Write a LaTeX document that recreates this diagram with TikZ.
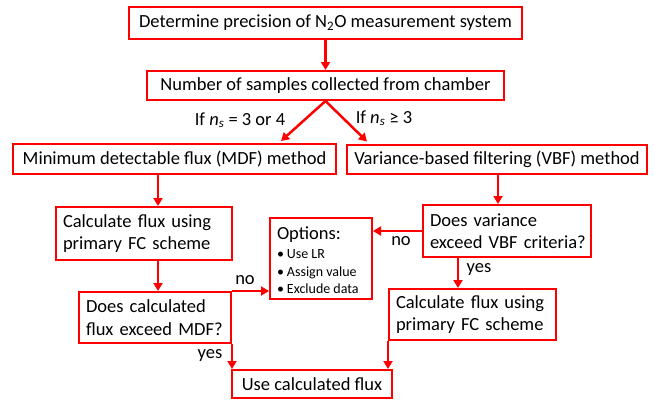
\documentclass[tikz,border=0pt]{standalone}
\usepackage{fontspec}
\setmainfont{Carlito}
\usetikzlibrary{arrows.meta,positioning}
\newcommand{\optfont}{\fontsize{14}{17.5}\selectfont\spaceskip=0.22em}

\begin{document}
\begin{tikzpicture}[x=1pt,y=-1pt,>={Triangle[length=8pt,width=9pt]},
    every node/.style={font=\fontsize{18.5}{22.5}\selectfont},
    fcbox/.style={draw=red,line width=2pt,fill=white,inner sep=0pt},
    qbox/.style={fcbox,inner xsep=7pt,align=left},
    arr/.style={->,draw=red,line width=2.5pt}]
    \useasboundingbox (0,0) rectangle (654,402);
    % top of the chart
    \node[fcbox,minimum width=393pt,minimum height=32pt] (prec) at (325.5,23) {Determine precision of N\textsubscript{2}O measurement system};
    \node[fcbox,minimum width=357pt,minimum height=29pt] (nsamp) at (325.5,85.5) {Number of samples collected from chamber};
    \node[fcbox,minimum width=323pt,minimum height=30pt] (mdf) at (174.5,159) {Minimum detectable flux (MDF) method};
    \node[fcbox,minimum width=300pt,minimum height=29pt] (vbf) at (497,159) {Variance-based filtering (VBF) method};
    \draw[arr] (prec) -- (nsamp);
    \draw[arr] (nsamp.south) -- ([xshift=-56pt,yshift=2pt]mdf.north east);
    \draw[arr] (nsamp.south) -- ([xshift=21pt,yshift=2pt]vbf.north west);
    \node (ifl) at (240,120) {If \textit{n}\textsubscript{\textit{s}} = 3 or 4};
    \node (ifr) at (384,118) {If \textit{n}\textsubscript{\textit{s}} ≥ 3};
    % MDF branch
    \node[qbox,text width=162pt,minimum height=53pt] (calcl) at (144,233.5) {\mbox{Calculate flux using}\\\mbox{primary FC scheme}};
    \node[qbox,text width=138pt,minimum height=51pt] (mdfq) at (155,317.5) {\mbox{Does calculated}\\\mbox{flux exceed MDF?}};
    \draw[arr] ([xshift=-16.5pt]mdf.south) -- ([xshift=-16.5pt]mdf.south |- calcl.north);
    \draw[arr] ([xshift=14pt]calcl.south) -- ([xshift=14pt]calcl.south |- mdfq.north);
    % VBF branch
    \node[qbox,text width=154pt,minimum height=52pt] (varq) at (507,231) {\mbox{Does variance}\\\mbox{exceed VBF criteria?}};
    \node[qbox,text width=153pt,minimum height=51pt] (calcr) at (472.5,314.5) {\mbox{Calculate flux using}\\\mbox{primary FC scheme}};
    \draw[arr] ([xshift=1pt]vbf.south) -- ([xshift=1pt]vbf.south |- varq.north);
    \draw[arr] ([xshift=-49pt]varq.south) -- ([xshift=-49pt]varq.south |- calcr.north);
    \node (yesr) at (479,270) {yes};
    % options
    \node[qbox,text width=88pt,minimum height=81pt] (opts) at (321,258.5) {\rule{0pt}{22pt}Options:\\[3pt]{\optfont\begin{tabular}{@{}l@{}}•\hspace{3pt}Use LR\\•\hspace{3pt}Assign value\\•\hspace{3pt}Exclude data\end{tabular}}};
    \draw[arr] (varq.west) -- (varq.west -| opts.east);
    \node (nor) at (401,241) {no};
    \draw[arr] (mdfq.north east) -- (mdfq.north east -| opts.west);
    \node (nol) at (245,280) {no};
    % end
    \node[fcbox,minimum width=160pt,minimum height=28pt] (use) at (312,384) {Use calculated flux};
    \draw[arr] (mdfq.south east) -- (mdfq.south east |- use.north);
    \draw[arr] (calcr.south west) -- (calcr.south west |- use.north);
    \node (yesl) at (210,356) {yes};
\end{tikzpicture}
\end{document}
